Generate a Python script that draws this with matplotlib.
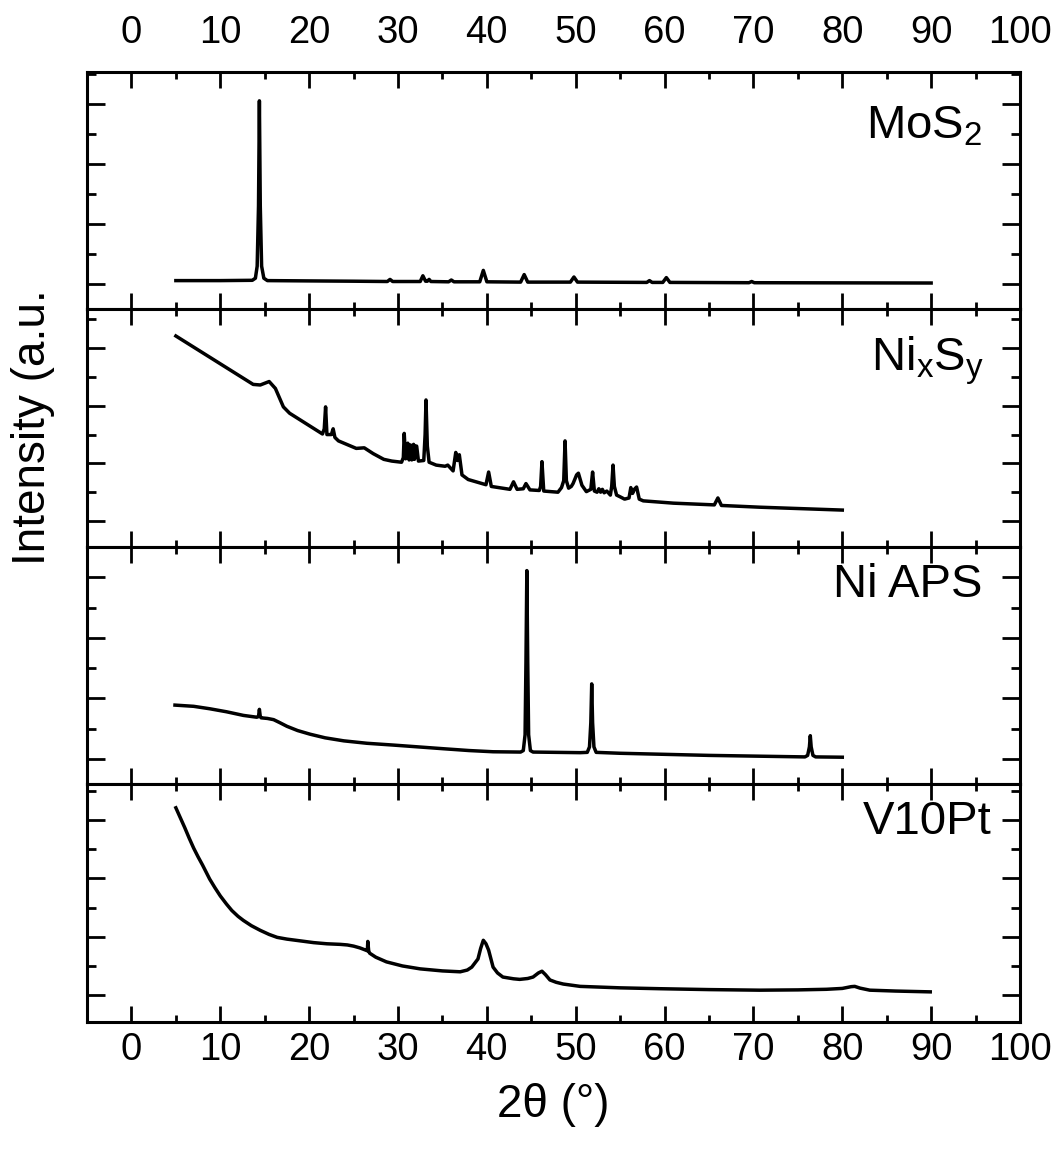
import matplotlib
matplotlib.use("Agg")
import matplotlib.pyplot as plt
from matplotlib.ticker import MultipleLocator

plt.rcParams['font.family'] = ['Liberation Sans', 'DejaVu Sans']
plt.rcParams['mathtext.fontset'] = 'custom'
plt.rcParams['mathtext.rm'] = 'Liberation Sans'
plt.rcParams['mathtext.it'] = 'Liberation Sans'

# --- data (2theta in degrees, intensity in panel units) ---
mos2_tt = [5.0, 10.0, 13.6, 13.95, 14.15, 14.3, 14.4, 14.5, 14.65, 14.9, 15.3,
           20.0, 25.0, 28.8, 29.1, 29.4, 32.5, 32.8, 33.1, 33.3, 33.5, 33.7,
           35.7, 36.0, 36.3, 39.2, 39.6, 40.0, 43.8, 44.2, 44.6, 49.4, 49.8,
           50.2, 58.0, 58.3, 58.6, 59.8, 60.2, 60.6, 69.5, 69.8, 70.1, 90.0]
mos2_int = [0.06, 0.06, 0.065, 0.10, 0.3, 1.3, 3.05, 1.3, 0.3, 0.10, 0.06,
            0.055, 0.05, 0.045, 0.08, 0.045, 0.045, 0.14, 0.05, 0.05, 0.08, 0.045,
            0.04, 0.07, 0.04, 0.04, 0.23, 0.04, 0.035, 0.16, 0.035, 0.035, 0.12,
            0.035, 0.03, 0.06, 0.03, 0.03, 0.11, 0.03, 0.025, 0.045, 0.025, 0.02]

nis_tt = [5.0, 13.7, 14.5, 15.5, 16.2, 17.1, 17.8, 21.5, 21.7, 21.85, 22.0,
          22.5, 22.7, 22.9, 23.3, 25.3, 26.2, 27.2, 28.4, 29.3, 30.4, 30.6, 30.7,
          30.85, 31.0, 31.1, 31.25, 31.4, 31.55, 31.75, 31.85, 32.0, 32.1, 32.3,
          32.9, 33.05, 33.15, 33.3, 33.5, 34.3, 35.3, 35.6, 36.2, 36.5, 36.7,
          36.9, 37.2, 37.9, 39.9, 40.2, 40.5, 42.6, 43.0, 43.4, 44.1, 44.4,
          44.85, 45.9, 46.05, 46.2, 46.4, 48.0, 48.4, 48.65, 48.8, 48.95, 49.2,
          49.5, 49.7, 50.1, 50.3, 50.7, 51.2, 51.7, 51.9, 52.1, 52.4, 52.6,
          52.8, 53.0, 53.2, 53.5, 53.9, 54.05, 54.2, 54.35, 54.6, 55.0, 55.5,
          56.0, 56.2, 56.4, 56.6, 56.85, 57.15, 57.6, 61.0, 65.6, 66.0, 66.4,
          70.7, 80.0]
nis_int = [3.21, 2.37, 2.36, 2.42, 2.30, 1.98, 1.87, 1.51, 1.60, 1.98, 1.50,
           1.50, 1.60, 1.45, 1.39, 1.26, 1.27, 1.17, 1.07, 1.04, 1.02, 1.10, 1.52,
           1.08, 1.10, 1.35, 1.06, 1.32, 1.06, 1.33, 1.07, 1.30, 1.30, 1.04,
           1.05, 1.5, 2.10, 1.3, 1.02, 0.97, 0.95, 0.97, 0.87, 1.19, 1.05,
           1.15, 0.80, 0.72, 0.63, 0.85, 0.60, 0.55, 0.68, 0.55, 0.56, 0.65,
           0.54, 0.53, 0.6, 1.03, 0.52, 0.50, 0.58, 0.7, 1.39, 0.7, 0.57,
           0.60, 0.65, 0.80, 0.83, 0.62, 0.51, 0.55, 0.85, 0.52, 0.50, 0.56,
           0.50, 0.55, 0.49, 0.52, 0.45, 0.6, 0.97, 0.6, 0.45, 0.42, 0.38,
           0.40, 0.58, 0.48, 0.55, 0.59, 0.38, 0.35, 0.31, 0.28, 0.40, 0.27,
           0.24, 0.19]

ni_tt = [4.9, 7.0, 8.8, 10.7, 12.6, 14.1, 14.3, 14.4, 14.5, 14.6, 15.3, 16.0,
         16.7, 17.5, 18.7, 20.1, 21.8, 23.9, 26.5, 29.5, 32.3, 35.1, 38.0, 40.7,
         43.8, 44.1, 44.3, 44.4, 44.5, 44.6, 44.7, 44.9, 45.2, 50.5, 51.3,
         51.55, 51.7, 51.8, 51.9, 52.05, 52.3, 55.0, 65.0, 75.8, 76.1, 76.3,
         76.4, 76.5, 76.7, 77.0, 80.0]
ni_int = [0.89, 0.87, 0.83, 0.78, 0.72, 0.69, 0.70, 0.82, 0.70, 0.68, 0.67, 0.65,
          0.60, 0.54, 0.47, 0.41, 0.35, 0.30, 0.26, 0.23, 0.20, 0.17, 0.14, 0.12,
          0.115, 0.14, 0.4, 1.6, 3.11, 1.6, 0.4, 0.14, 0.115, 0.105, 0.11,
          0.2, 0.6, 1.24, 0.6, 0.2, 0.11, 0.095, 0.06, 0.035, 0.06, 0.2,
          0.385, 0.2, 0.06, 0.035, 0.03]

v10_tt = [5.0, 5.5, 6.0, 6.5, 7.0, 7.5, 8.0, 8.8, 9.4, 10.0, 10.7, 11.3, 12.0,
          12.6, 13.5, 14.5, 15.5, 16.4, 17.5, 19.0, 20.5, 22.0, 23.5, 24.3,
          25.0, 25.7, 26.3, 26.55, 26.6, 26.7, 26.8, 27.5, 28.7, 30.5, 32.5,
          35.0, 37.0, 37.8, 38.3, 39.0, 39.3, 39.6, 39.9, 40.2, 40.7, 41.2,
          41.8, 43.0, 43.7, 44.6, 45.2, 45.8, 46.2, 46.6, 47.1, 47.8, 48.6,
          50.5, 55.0, 59.5, 65.0, 70.7, 75.0, 78.2, 80.0, 81.0, 81.4, 82.0,
          83.1, 86.0, 89.9]
v10_int = [3.21, 3.04, 2.87, 2.69, 2.52, 2.37, 2.23, 1.99, 1.84, 1.70, 1.56,
           1.45, 1.35, 1.28, 1.19, 1.11, 1.04, 0.99, 0.96, 0.93, 0.90, 0.88,
           0.87, 0.86, 0.84, 0.81, 0.775, 0.76, 0.92, 0.76, 0.72, 0.65, 0.57,
           0.50, 0.45, 0.415, 0.40, 0.43, 0.48, 0.62, 0.80, 0.94, 0.88, 0.77,
           0.48, 0.38, 0.31, 0.28, 0.27, 0.285, 0.31, 0.38, 0.41, 0.35, 0.26,
           0.22, 0.19, 0.15, 0.125, 0.11, 0.095, 0.085, 0.09, 0.10, 0.115,
           0.145, 0.15, 0.12, 0.085, 0.07, 0.056]

panels = [
    (mos2_tt, mos2_int, 'MoS$_\\mathregular{2}$', (-0.42, 3.53), (0.960, 0.72)),
    (nis_tt, nis_int, 'Ni$_\\mathregular{x}$S$_\\mathregular{y}$', (-0.45, 3.67), (0.962, 0.745)),
    (ni_tt, ni_int, 'Ni APS', (-0.42, 3.50), (0.960, 0.79)),
    (v10_tt, v10_int, 'V10Pt', (-0.46, 3.61), (0.970, 0.79)),
]

fig, axes = plt.subplots(4, 1, sharex=True, figsize=(10.56, 11.57), dpi=100)
fig.subplots_adjust(left=0.0824, right=0.9659, top=0.9378, bottom=0.1167, hspace=0)

for i, (tt, inten, label, ylim, pos) in enumerate(panels):
    ax = axes[i]
    ax.plot(tt, inten, color='black', lw=2.5, solid_joinstyle='round')
    ax.set_xlim(-5, 100)
    ax.set_ylim(*ylim)
    ax.xaxis.set_major_locator(MultipleLocator(10))
    ax.xaxis.set_minor_locator(MultipleLocator(5))
    ax.yaxis.set_major_locator(MultipleLocator(1))
    ax.yaxis.set_minor_locator(MultipleLocator(0.5))
    ax.tick_params(which='both', direction='in', top=True, right=True,
                   labelleft=False, labelbottom=False, width=2.0)
    ax.tick_params(axis='x', which='major', length=11.5)
    ax.tick_params(axis='x', which='minor', length=5)
    ax.tick_params(axis='y', which='major', length=13)
    ax.tick_params(axis='y', which='minor', length=6.5)
    for sp in ax.spines.values():
        sp.set_linewidth(2.2)
    ax.text(pos[0], pos[1], label, transform=ax.transAxes, ha='right',
            va='baseline', fontsize=34)

axes[0].tick_params(axis='x', labeltop=True, labelsize=27.5, pad=15)
axes[-1].tick_params(axis='x', labelbottom=True, labelsize=27.5, pad=7)

fig.text(0.524, 0.045, '2θ (°)', ha='center', va='center', fontsize=33)
fig.text(0.031, 0.631, 'Intensity (a.u.', ha='center', va='center',
         rotation=90, fontsize=33)

fig.savefig('out.png', dpi=100)
